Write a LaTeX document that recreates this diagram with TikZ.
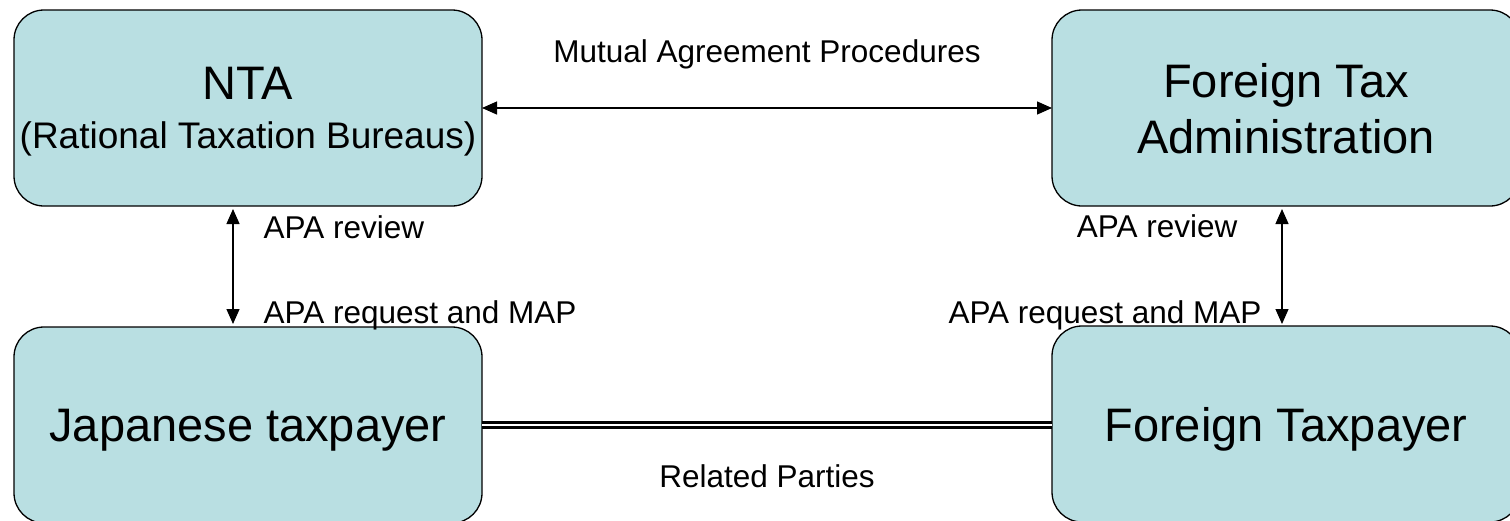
\documentclass[tikz,border=0pt]{standalone}
\usepackage{fontspec}
\setmainfont{Liberation Sans}
\usetikzlibrary{arrows.meta,positioning}
\definecolor{boxfill}{RGB}{185,223,226}
\tikzset{
  partybox/.style={rectangle,draw,fill=boxfill,rounded corners=30pt,inner sep=0pt,outer sep=0pt,
    minimum width=468pt,minimum height=196pt,text depth=0pt,align=center,font=\fontsize{47}{56}\selectfont},
  arrowlabel/.style={inner sep=0pt,font=\fontsize{31.5}{38}\selectfont},
  relation/.style={double,double distance=2.3pt,line width=2.7pt}
}

\begin{document}
\begin{tikzpicture}[x=1pt,y=1pt,line width=1.3pt,>={Triangle[length=15pt,width=13pt]}]
        \useasboundingbox (0,0) rectangle (1510,-520);
        \node[partybox] (nta) at (248,-108) {NTA\\[-7pt]{\fontsize{37}{44}\selectfont(Rational Taxation Bureaus)}};
        \node[partybox,right=570pt of nta] (fta) {Foreign Tax\\Administration};
        \node[partybox,below=121pt of nta] (jt) {Japanese taxpayer};
        \node[partybox,below=120pt of fta] (ft) {Foreign Taxpayer};
        \path[<->]
          (nta.east) edge node[arrowlabel,anchor=base,yshift=46pt] {Mutual Agreement Procedures} (nta.east -| fta.west)
          ([xshift=-15pt]nta.south) edge[shorten <=3pt,shorten >=3pt]
            node[arrowlabel,pos=0,anchor=base west,xshift=30pt,yshift=-32pt] {APA review}
            node[arrowlabel,pos=1,anchor=base west,xshift=30pt,yshift=4pt] {APA request and MAP}
            ([xshift=-15pt]jt.north)
          ([xshift=-4pt]fta.south) edge[shorten <=3pt,shorten >=2pt]
            node[arrowlabel,pos=0,anchor=base east,xshift=-44pt,yshift=-31pt] {APA review}
            node[arrowlabel,pos=1,anchor=base east,xshift=-20pt,yshift=3pt] {APA request and MAP}
            ([xshift=-4pt]ft.north);
        \path
          (jt.east) edge[relation] node[arrowlabel,anchor=base,yshift=-62pt] {Related Parties} (jt.east -| ft.west);
      \end{tikzpicture}
\end{document}
